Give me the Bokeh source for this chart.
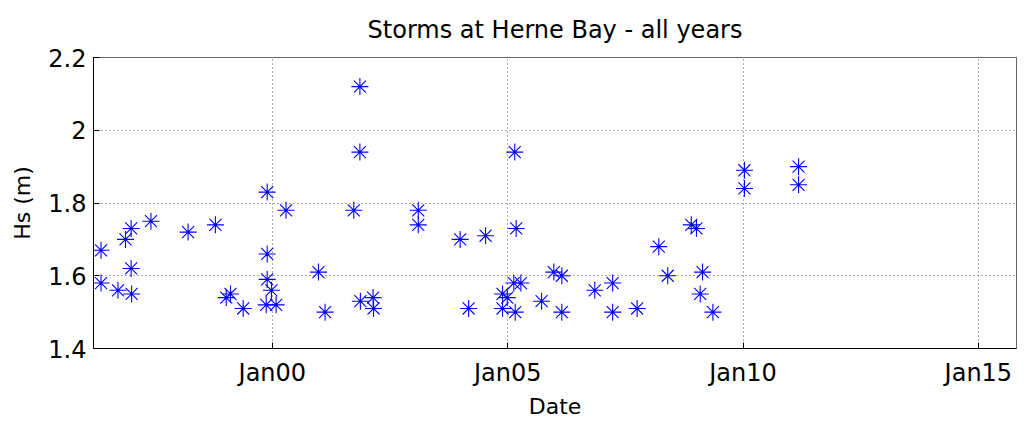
from bokeh.plotting import figure
from bokeh.models import Range1d, FixedTicker
from bokeh.embed import file_html
from bokeh.resources import INLINE

# decimal year of each storm
storm_year = [
    1996.36, 1996.36, 1996.72, 1996.88, 1997.00, 1997.00, 1997.01, 1997.42,
    1998.21, 1998.79, 1999.02, 1999.11, 1999.38, 1999.89, 1999.89, 1999.89,
    1999.98, 1999.87, 2000.08, 2000.29, 2000.98, 2001.12, 2001.73, 2001.86,
    2001.86, 2001.87, 2002.14, 2002.15,
    2003.10, 2003.10, 2003.99, 2004.17, 2004.53, 2004.89, 2004.99, 2004.89,
    2005.15, 2005.13, 2005.28, 2005.16, 2005.18, 2005.72, 2005.98, 2006.15,
    2006.15, 2006.85, 2007.23, 2007.23, 2007.75, 2008.21, 2008.40, 2008.90,
    2009.01, 2009.14, 2009.09, 2009.36,
    2010.03, 2010.03, 2011.18, 2011.18,
]
# significant wave height Hs (m)
storm_hs = [
    1.67, 1.58, 1.56, 1.70, 1.73, 1.62, 1.55, 1.75,
    1.72, 1.74, 1.54, 1.55, 1.51, 1.83, 1.66, 1.59,
    1.56, 1.52, 1.52, 1.78, 1.61, 1.50, 1.78, 2.12,
    1.94, 1.53, 1.54, 1.51,
    1.78, 1.74, 1.70, 1.51, 1.71, 1.55, 1.54, 1.51,
    1.94, 1.58, 1.58, 1.50, 1.73, 1.53, 1.61, 1.60,
    1.50, 1.56, 1.58, 1.50, 1.51, 1.68, 1.60, 1.74,
    1.73, 1.61, 1.55, 1.50,
    1.89, 1.84, 1.90, 1.85,
]

x_ticks = [2000, 2005, 2010, 2015]
x_tick_labels = ["Jan00", "Jan05", "Jan10", "Jan15"]
y_ticks = [1.4, 1.6, 1.8, 2.0, 2.2]
y_tick_labels = ["1.4", "1.6", "1.8", "2", "2.2"]

FONT = "DejaVu Sans"

p = figure(width=1017, height=421, output_backend="svg", toolbar_location=None,
           x_range=Range1d(1996.2, 2015.81), y_range=Range1d(1.4, 2.2),
           title="Storms at Herne Bay - all years",
           min_border_left=93, min_border_right=1, min_border_top=57, min_border_bottom=72)
p.background_fill_color = "white"
p.border_fill_color = "white"
p.outline_line_color = "#666666"
p.outline_line_width = 1

p.title.align = "center"
p.title.text_font = FONT
p.title.text_font_size = "24px"
p.title.text_font_style = "normal"
p.title.text_color = "black"
p.title.offset = 0
p.title.standoff = 27

p.scatter(storm_year, storm_hs, marker="asterisk", size=17, line_color="#0000ff", line_width=1.1)

p.xaxis.ticker = FixedTicker(ticks=x_ticks)
p.xaxis.major_label_overrides = dict(zip(x_ticks, x_tick_labels))
p.yaxis.ticker = FixedTicker(ticks=y_ticks)
p.yaxis.major_label_overrides = dict(zip(y_ticks, y_tick_labels))
p.xaxis.axis_label = "Date"
p.yaxis.axis_label = "Hs (m)"

for ax in (p.xaxis[0], p.yaxis[0]):
    ax.major_tick_in = 6
    ax.major_tick_out = 0
    ax.minor_tick_line_color = None
    ax.axis_line_color = "black"
    ax.major_tick_line_color = "black"
    ax.major_label_text_font = FONT
    ax.major_label_text_font_size = "24px"
    ax.major_label_text_color = "black"
    ax.axis_label_text_font = FONT
    ax.axis_label_text_font_size = "22px"
    ax.axis_label_text_font_style = "normal"
    ax.axis_label_text_color = "black"
p.xaxis.major_label_standoff = 10
p.yaxis.major_label_standoff = 7
p.xaxis.axis_label_standoff = 4
p.yaxis.axis_label_standoff = 10

p.xgrid.grid_line_color = "#333333"
p.ygrid.grid_line_color = "#333333"
p.xgrid.grid_line_dash = "1 3"
p.ygrid.grid_line_dash = "1 3"
p.xgrid.grid_line_alpha = 0.8
p.ygrid.grid_line_alpha = 0.8

open("out.html", "w").write(file_html(p, INLINE))
